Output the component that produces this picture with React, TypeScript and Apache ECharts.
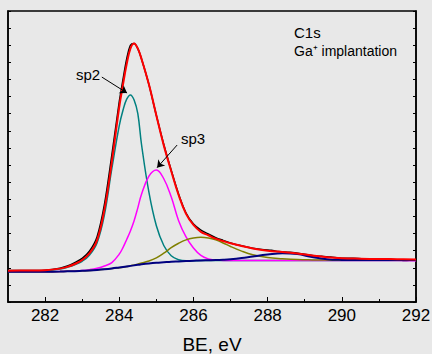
import React, { useEffect, useRef } from "react";
import * as echarts from "echarts";

// Binding energy grid (eV) for fitted curves
const BE = [281, 281.5, 282, 282.4, 282.6, 282.8, 283.0, 283.2, 283.4, 283.6, 283.8, 284.0, 284.1, 284.2, 284.3, 284.4, 284.5, 284.6, 284.8, 285.0, 285.2, 285.4, 285.6, 285.8, 286.0, 286.2, 286.4, 286.6, 286.8, 287.0, 287.3, 287.6, 288.0, 288.4, 288.8, 289.2, 289.6, 290.0, 290.5, 291.0, 291.5, 292];

const envelope = [1.83, 1.84, 1.86, 1.95, 2.05, 2.22, 2.45, 2.85, 3.6, 5.4, 8.2, 11.4, 12.7, 13.9, 14.8, 15.1, 14.8, 14.2, 12.7, 10.9, 9.15, 7.65, 6.25, 5.15, 4.5, 4.1, 3.9, 3.7, 3.56, 3.43, 3.27, 3.13, 3.0, 2.92, 2.84, 2.72, 2.62, 2.56, 2.53, 2.51, 2.50, 2.48];

const sp2 = [1.8, 1.81, 1.83, 1.93, 2.03, 2.17, 2.38, 2.75, 3.45, 5.1, 7.8, 10.3, 11.2, 11.85, 12.1, 11.8, 11.0, 9.2, 6.4, 4.45, 3.3, 2.7, 2.47, 2.41, 2.41, 2.42, 2.42, 2.43, 2.43, 2.43, 2.43, 2.43, 2.43, 2.43, 2.43, 2.43, 2.43, 2.43, 2.43, 2.43, 2.43, 2.43];

const sp3 = [1.76, 1.76, 1.77, 1.78, 1.79, 1.81, 1.84, 1.89, 1.97, 2.1, 2.3, 2.8, 3.18, 3.65, 4.15, 4.75, 5.5, 6.3, 7.35, 7.71, 7.2, 6.15, 4.75, 3.8, 3.15, 2.72, 2.52, 2.45, 2.43, 2.42, 2.42, 2.42, 2.42, 2.42, 2.42, 2.42, 2.42, 2.42, 2.42, 2.42, 2.42, 2.41];

const peak3 = [1.76, 1.76, 1.77, 1.78, 1.79, 1.80, 1.82, 1.84, 1.87, 1.91, 1.95, 2.0, 2.03, 2.07, 2.11, 2.16, 2.21, 2.28, 2.40, 2.58, 2.85, 3.17, 3.43, 3.63, 3.74, 3.78, 3.74, 3.63, 3.45, 3.24, 2.97, 2.76, 2.60, 2.53, 2.48, 2.46, 2.45, 2.44, 2.44, 2.44, 2.44, 2.44];

const background = [1.76, 1.76, 1.77, 1.78, 1.79, 1.80, 1.82, 1.84, 1.87, 1.91, 1.96, 2.02, 2.05, 2.08, 2.11, 2.14, 2.17, 2.20, 2.25, 2.29, 2.32, 2.35, 2.37, 2.39, 2.41, 2.43, 2.44, 2.45, 2.47, 2.50, 2.57, 2.66, 2.77, 2.85, 2.80, 2.63, 2.50, 2.46, 2.45, 2.45, 2.45, 2.45];

// Measured spectrum
const dataBE = [281, 281.5, 282, 282.4, 282.6, 282.8, 283.0, 283.2, 283.4, 283.6, 283.8, 284.0, 284.1, 284.2, 284.3, 284.4, 284.5, 284.6, 284.8, 285.0, 285.2, 285.4, 285.6, 285.8, 286.0, 286.2, 286.4, 286.6, 286.8, 287.0, 287.3, 287.6, 287.9, 288.1, 288.3, 288.6, 288.9, 289.2, 289.5, 289.7, 290.0, 290.3, 290.6, 291.0, 291.3, 291.7, 292];
const measured = [1.84, 1.84, 1.86, 1.97, 2.1, 2.3, 2.55, 2.98, 3.8, 5.7, 8.6, 11.7, 13.0, 14.2, 15.0, 15.1, 14.8, 14.2, 12.7, 10.9, 9.2, 7.7, 6.3, 5.2, 4.55, 4.2, 3.97, 3.76, 3.6, 3.45, 3.28, 3.14, 3.05, 3.02, 2.95, 2.9, 2.82, 2.72, 2.66, 2.63, 2.55, 2.56, 2.52, 2.52, 2.5, 2.42, 2.49];

const majorTicks = [282, 284, 286, 288, 290, 292];
const minorTicks = [283, 285, 287, 289, 291];

const FONT = 'Arial, "Liberation Sans", sans-serif';

const pairs = (xs: number[], ys: number[]) => xs.map((x, i) => [x, ys[i]]);

export default function App() {
  const ref = useRef<HTMLDivElement>(null);
  useEffect(() => {
    if (!ref.current) return;
    const chart = echarts.init(ref.current, null, { renderer: "svg" });
    const line = (name: string, xs: number[], ys: number[], color: string, width: number, extra: any = {}) => ({
      name,
      type: "line",
      data: pairs(xs, ys),
      showSymbol: false,
      smooth: 0.4,
      lineStyle: { color, width },
      itemStyle: { color },
      xAxisIndex: 0,
      yAxisIndex: 0,
      ...extra,
    });
    const yAxisBase = {
      type: "value",
      min: 0,
      max: 17,
      interval: 1,
      axisLine: { show: true, lineStyle: { color: "#000", width: 1.5 } },
      axisTick: { show: true, inside: true, length: 3, lineStyle: { color: "#000", width: 1 } },
      axisLabel: { show: false },
      splitLine: { show: false },
    };
    chart.setOption({
      animation: false,
      backgroundColor: "#e8e8e8",
      textStyle: { fontFamily: FONT },
      grid: {
        left: 8, right: 16, top: 11, bottom: 52,
        outerBoundsMode: "none",
        containLabel: false,
        show: true, borderColor: "#000", borderWidth: 1.5, backgroundColor: "transparent",
      },
      xAxis: [
        {
          type: "value",
          min: 281,
          max: 292,
          interval: 1,
          position: "bottom",
          axisLine: { show: true, onZero: false, lineStyle: { color: "#000", width: 1.5 } },
          axisTick: { show: true, inside: true, length: 5, customValues: majorTicks, lineStyle: { color: "#000", width: 1 } },
          axisLabel: { customValues: majorTicks, fontSize: 17, color: "#000", margin: 5, fontFamily: FONT },
          splitLine: { show: false },
          name: "BE, eV",
          nameLocation: "middle",
          nameGap: 33,
          nameTextStyle: { fontSize: 19, color: "#000", fontFamily: FONT },
        },
        {
          type: "value",
          min: 281,
          max: 292,
          interval: 1,
          position: "top",
          offset: -291,
          axisLine: { show: false, onZero: false },
          axisTick: { show: true, inside: false, length: 3, customValues: minorTicks, lineStyle: { color: "#000", width: 1 } },
          axisLabel: { show: false },
          splitLine: { show: false },
        },
      ],
      yAxis: [
        { ...yAxisBase, position: "left" },
        { ...yAxisBase, position: "right" },
      ],
      series: [
        line("measured", dataBE, measured, "#000000", 1.5, { smooth: 0.3 }),
        line("sp2", BE, sp2, "#008080", 1.5, {
          markLine: {
            silent: true,
            symbol: ["none", "arrow"],
            symbolSize: 7,
            lineStyle: { color: "#000", width: 1, type: "solid" },
            label: { show: false },
            data: [
              [{ coord: [283.53, 13.14] }, { coord: [284.21, 12.21] }],
              [{ coord: [285.56, 9.17] }, { coord: [285.02, 7.85] }],
            ],
          },
        }),
        line("sp3", BE, sp3, "#ff00ff", 1.5),
        line("peak3", BE, peak3, "#808000", 1.5),
        line("background", BE, background, "#000080", 2),
        line("envelope", BE, envelope, "#ff0000", 2),
      ],
      graphic: [
        { type: "text", x: 88, y: 74, style: { text: "sp2", font: `15px ${FONT}`, fill: "#000", textAlign: "center", textVerticalAlign: "middle" } },
        { type: "text", x: 193, y: 138, style: { text: "sp3", font: `15px ${FONT}`, fill: "#000", textAlign: "center", textVerticalAlign: "middle" } },
        { type: "text", x: 294, y: 32, style: { text: "C1s", font: `15px ${FONT}`, fill: "#000", textAlign: "left", textVerticalAlign: "middle" } },
        { type: "text", x: 294, y: 51, style: { text: "Ga\u207A implantation", font: `14px ${FONT}`, fill: "#000", textAlign: "left", textVerticalAlign: "middle" } },
      ],
    });
    return () => chart.dispose();
  }, []);
  return (
    <div
      ref={ref}
      style={{ position: "fixed", left: 0, top: 0, width: 432, height: 354, background: "#e8e8e8" }}
    />
  );
}
